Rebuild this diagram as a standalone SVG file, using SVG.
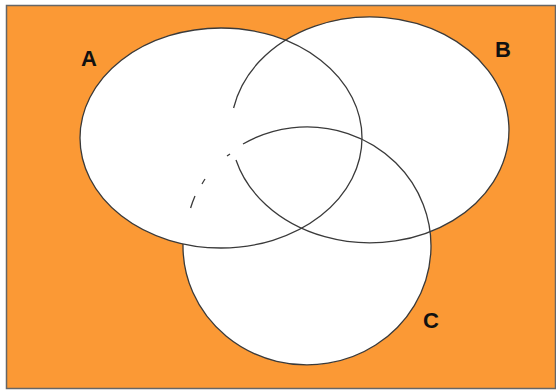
<svg xmlns="http://www.w3.org/2000/svg" width="556" height="391" viewBox="0 0 556 391">
<style>
.set{fill:#ffffff;stroke:none}
.edge{fill:none;stroke:#3a3a3a;stroke-width:1.3}
.lbl{font-family:"Liberation Sans",Arial,sans-serif;font-weight:bold;font-size:22px;fill:#111}
</style>
<rect x="0" y="0" width="556" height="391" fill="#ffffff"/>
<rect id="universe" x="6.5" y="5.5" width="549" height="383" fill="#fb9935" stroke="#666" stroke-width="1.5"/>
<g id="fills">
<ellipse class="set" cx="221" cy="138" rx="141" ry="110"/>
<ellipse class="set" cx="370" cy="130" rx="139" ry="113"/>
<ellipse class="set" cx="307" cy="246" rx="124" ry="119"/>
</g>
<g id="A"><ellipse class="edge" cx="221" cy="138" rx="141" ry="110"/><text class="lbl" x="81" y="66">A</text></g>
<g id="B"><path class="edge" d="M233.6,108 A139,113 0 1 1 236,160"/><path class="edge" d="M227,156 L230,154"/><text class="lbl" x="495" y="57">B</text></g>
<g id="C"><path class="edge" d="M243,144 A124,119 0 1 1 183,244"/><path class="edge" d="M190.6,208 A124,119 0 0 1 195,196"/><path class="edge" d="M202,184 A124,119 0 0 1 205,179"/><text class="lbl" x="423" y="328">C</text></g>
</svg>
